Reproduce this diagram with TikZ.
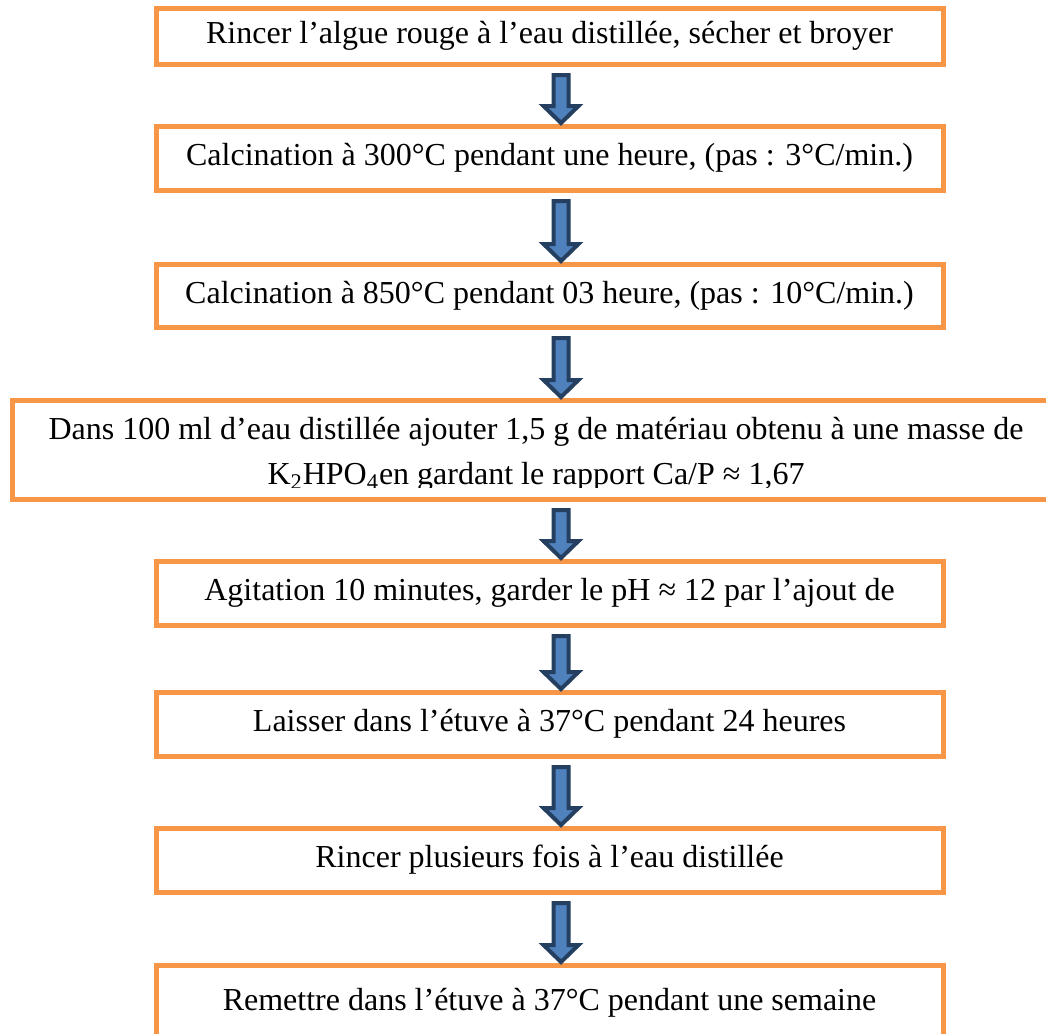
\documentclass[tikz,border=0pt]{standalone}
\usepackage{fontspec}
\setmainfont{Liberation Serif}
\usetikzlibrary{positioning,calc}
\definecolor{boxorange}{HTML}{F79646}
\definecolor{arrowblue}{HTML}{4F81BD}
\definecolor{arrowedge}{HTML}{243F60}
\tikzset{
  stepbox/.style={draw=boxorange, line width=2.5pt, minimum width=393.5pt, minimum height=32pt, outer sep=0pt, inner sep=0pt, font=\fontsize{16}{19}\selectfont},
  blockarrow/.style={draw=arrowedge, fill=arrowblue, line width=2pt}
}
% block arrow from the box above to the box below
\newcommand{\flowarrow}[2]{%
  \draw[blockarrow] ($(axis |- #1.south)+(-7.5,11)$) -- ($(axis |- #2.north)+(-7.5,-20)$)
    -- ($(axis |- #2.north)+(-17.5,-20)$) -- ($(axis |- #2.north)+(0,-3)$)
    -- ($(axis |- #2.north)+(17.5,-20)$) -- ($(axis |- #2.north)+(7.5,-20)$)
    -- ($(axis |- #1.south)+(7.5,11)$) -- cycle;
}
\begin{document}
\begin{tikzpicture}[x=0.5pt, y=-0.5pt]
        \useasboundingbox (0,0) rectangle (1046,1034);
        \clip (0,0) rectangle (1046,1034);
        \coordinate (axis) at (561,0);
        % Define nodes
        \node (rinse) [stepbox, minimum height=28pt] at (549.5,36) {Rincer l’algue rouge à l’eau distillée, sécher et broyer};
        \node (calcA) [stepbox, below=31pt of rinse] {Calcination à 300°C pendant une heure, (pas : 3°C/min.)};
        \node (calcB) [stepbox, minimum height=31.5pt, below=37pt of calcA] {Calcination à 850°C pendant 03 heure, (pas : 10°C/min.)};
        \node (mix) [stepbox, minimum width=524pt, minimum height=49.5pt, below=36.5pt of calcB, xshift=-6.75pt] {};
        \begin{scope}
          \clip (mix.north west) rectangle ([yshift=6pt]mix.south east);
          \node (mixtext) [align=center, font=\fontsize{16}{22.5}\selectfont] at ([yshift=-2.5pt]mix.center)
            {Dans 100 ml d’eau distillée ajouter 1,5 g de matériau obtenu à une masse de\\K\textsubscript{2}HPO\textsubscript{4}en gardant le rapport Ca/P ≈ 1,67};
        \end{scope}
        \node (stir) [stepbox, below=31pt of mix, xshift=6.75pt] {Agitation 10 minutes, garder le pH ≈ 12 par l’ajout de};
        \node (oven) [stepbox, below=33.5pt of stir] {Laisser dans l’étuve à 37°C pendant 24 heures};
        \node (wash) [stepbox, below=36pt of oven] {Rincer plusieurs fois à l’eau distillée};
        \node (dry) [stepbox, minimum height=37.5pt, below=36.5pt of wash] {Remettre dans l’étuve à 37°C pendant une semaine};

        % Draw arrows
        \flowarrow{rinse}{calcA}
        \flowarrow{calcA}{calcB}
        \flowarrow{calcB}{mix}
        \flowarrow{mix}{stir}
        \flowarrow{stir}{oven}
        \flowarrow{oven}{wash}
        \flowarrow{wash}{dry}
\end{tikzpicture}
\end{document}
